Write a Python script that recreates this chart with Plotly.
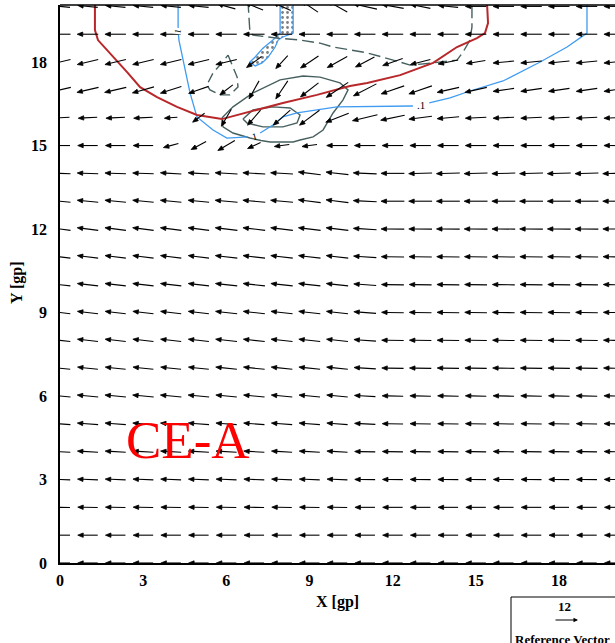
import math
import plotly.graph_objects as go

# ---------------- data ----------------
X_GRID = list(range(21))
Y_GRID = list(range(21))

# U / V components, one row per Y value (0..20), 21 columns (X 0..20)
U_ROWS = [
    [-10.0, -10.0, -10.0, -10.0, -10.0, -10.0, -10.0, -10.0, -10.0, -10.0, -10.0, -10.0, -10.0, -10.0, -10.0, -10.0, -10.0, -10.0, -10.0, -10.0, -10.0],
    [-10.0, -10.0, -10.0, -10.0, -10.0, -10.0, -10.0, -10.0, -10.0, -10.0, -10.0, -10.0, -10.0, -10.0, -10.0, -10.0, -10.0, -10.0, -10.0, -10.0, -10.0],
    [-10.0, -10.0, -10.0, -10.0, -10.0, -10.0, -10.0, -10.0, -10.0, -10.0, -10.0, -10.0, -10.0, -10.0, -10.0, -10.0, -10.0, -10.0, -10.0, -10.0, -10.0],
    [-10.2, -10.2, -10.2, -10.2, -10.2, -10.2, -10.2, -10.2, -10.2, -10.2, -10.2, -10.2, -10.2, -10.2, -10.2, -10.2, -10.2, -10.2, -10.2, -10.2, -10.2],
    [-10.3, -10.3, -10.3, -10.3, -10.3, -10.3, -10.3, -10.3, -10.3, -10.3, -10.3, -10.3, -10.3, -10.3, -10.3, -10.3, -10.3, -10.3, -10.3, -10.3, -10.3],
    [-10.4, -10.4, -10.4, -10.4, -10.4, -10.4, -10.4, -10.4, -10.4, -10.4, -10.4, -10.4, -10.4, -10.4, -10.4, -10.4, -10.4, -10.4, -10.4, -10.4, -10.4],
    [-10.5, -10.5, -10.5, -10.5, -10.5, -10.5, -10.5, -10.5, -10.5, -10.5, -10.5, -10.5, -10.5, -10.5, -10.5, -10.5, -10.5, -10.5, -10.5, -10.5, -10.5],
    [-10.2, -10.2, -10.2, -10.2, -10.2, -10.2, -10.6, -10.6, -10.6, -10.6, -10.6, -10.9, -10.9, -10.9, -10.9, -10.9, -10.9, -10.9, -10.9, -10.9, -10.9],
    [-10.3, -10.3, -10.3, -10.3, -10.3, -10.3, -10.7, -10.7, -10.7, -10.7, -10.7, -11.0, -11.0, -11.0, -11.0, -11.0, -11.0, -11.0, -11.0, -11.0, -11.0],
    [-10.3, -10.3, -10.3, -10.3, -10.3, -10.3, -10.8, -10.8, -10.8, -10.8, -10.8, -11.1, -11.1, -11.1, -11.1, -11.1, -11.1, -11.1, -11.1, -11.1, -11.1],
    [-10.4, -10.4, -10.4, -10.4, -10.4, -10.4, -10.9, -10.9, -10.9, -10.9, -10.9, -11.2, -11.2, -11.2, -11.2, -11.2, -11.2, -11.2, -11.2, -11.2, -11.2],
    [-10.4, -10.4, -10.4, -10.4, -10.4, -10.4, -11.0, -11.0, -11.0, -11.0, -11.0, -11.4, -11.4, -11.4, -11.4, -11.4, -11.4, -11.4, -11.4, -11.4, -11.4],
    [-10.5, -10.5, -10.5, -10.5, -10.5, -10.5, -11.1, -11.1, -11.1, -11.1, -11.1, -11.6, -11.6, -11.6, -11.6, -11.6, -11.6, -11.6, -11.6, -11.6, -11.6],
    [-10.5, -10.5, -10.5, -10.5, -10.5, -10.5, -11.2, -11.2, -11.2, -11.2, -11.2, -11.7, -11.7, -11.7, -11.7, -11.7, -11.7, -11.7, -11.7, -11.7, -11.7],
    [-10.5, -10.5, -10.5, -10.5, -10.5, -10.5, -11.2, -11.2, -11.2, -11.2, -11.2, -11.7, -11.7, -11.7, -11.7, -11.7, -11.7, -11.7, -11.7, -11.7, -11.7],
    [-10.0, -10.0, -10.0, -10.0, -7.5, -7.5, -8.5, -6.5, -7.5, -7.5, -10.5, -10.5, -10.5, -10.5, -10.5, -10.5, -10.5, -10.5, -10.5, -10.5, -10.5],
    [-9.5, -9.5, -9.5, -9.5, -6.5, -6.0, -5.0, -6.5, -8.5, -10.0, -11.5, -12.5, -12.0, -11.5, -11.0, -10.5, -10.5, -10.5, -10.5, -10.5, -10.5],
    [-10.8, -10.8, -10.8, -10.8, -10.5, -10.0, -6.5, -5.0, -6.0, -9.0, -11.0, -11.5, -11.5, -11.5, -11.0, -11.0, -10.5, -10.5, -10.5, -10.5, -10.5],
    [-10.5, -10.5, -10.5, -10.5, -10.5, -10.5, -10.5, -7.5, -6.0, -9.0, -10.0, -9.5, -10.0, -10.0, -10.0, -9.5, -10.5, -10.5, -10.5, -10.5, -10.5],
    [-10.5, -10.5, -10.5, -10.5, -10.5, -10.5, -10.5, -10.5, -10.5, -10.5, -10.5, -10.5, -10.5, -10.5, -10.5, -10.5, -10.5, -10.5, -10.5, -10.5, -10.5],
    [-10.0, -10.0, -10.0, -10.0, -10.0, -10.0, -9.0, -9.0, -9.0, -8.5, -10.0, -12.0, -11.0, -10.0, -10.0, -10.5, -10.5, -10.5, -10.5, -10.5, -10.5],
]
V_ROWS = [
    [0.0, 0.0, 0.0, 0.0, 0.0, 0.0, 0.0, 0.0, 0.0, 0.0, 0.0, 0.0, 0.0, 0.0, 0.0, 0.0, 0.0, 0.0, 0.0, 0.0, 0.0],
    [0.0, 0.0, 0.0, 0.0, 0.0, 0.0, 0.0, 0.0, 0.0, 0.0, 0.0, 0.0, 0.0, 0.0, 0.0, 0.0, 0.0, 0.0, 0.0, 0.0, 0.0],
    [0.2, 0.2, 0.2, 0.2, 0.2, 0.2, 0.2, 0.2, 0.2, 0.2, 0.2, 0.0, 0.0, 0.0, 0.0, 0.0, 0.0, 0.0, 0.0, 0.0, 0.0],
    [0.4, 0.4, 0.4, 0.4, 0.4, 0.4, 0.4, 0.4, 0.4, 0.4, 0.4, 0.1, 0.1, 0.1, 0.1, 0.1, 0.1, 0.1, 0.1, 0.1, 0.1],
    [0.6, 0.6, 0.6, 0.6, 0.6, 0.6, 0.6, 0.6, 0.6, 0.6, 0.6, 0.2, 0.2, 0.2, 0.2, 0.2, 0.2, 0.2, 0.2, 0.2, 0.2],
    [0.8, 0.8, 0.8, 0.8, 0.8, 0.8, 0.8, 0.8, 0.8, 0.8, 0.8, 0.5, 0.2, 0.2, 0.2, 0.2, 0.2, 0.2, 0.2, 0.2, 0.2],
    [1.0, 1.0, 1.0, 1.0, 1.0, 1.0, 1.0, 1.0, 1.0, 1.0, 1.0, 0.6, 0.2, 0.2, 0.2, 0.2, 0.2, 0.2, 0.2, 0.2, 0.2],
    [1.1, 1.1, 1.1, 1.1, 1.1, 1.1, 1.1, 1.1, 1.1, 1.1, 1.1, 0.7, 0.2, 0.2, 0.2, 0.2, 0.2, 0.2, 0.2, 0.2, 0.2],
    [1.2, 1.2, 1.2, 1.2, 1.2, 1.2, 1.2, 1.2, 1.2, 1.2, 1.2, 0.8, 0.2, 0.2, 0.2, 0.2, 0.2, 0.2, 0.2, 0.2, 0.2],
    [1.2, 1.2, 1.2, 1.2, 1.2, 1.2, 1.2, 1.2, 1.2, 1.2, 1.2, 0.8, 0.2, 0.2, 0.2, 0.2, 0.2, 0.2, 0.2, 0.2, 0.2],
    [1.2, 1.2, 1.2, 1.2, 1.2, 1.2, 1.2, 1.2, 1.2, 1.2, 1.2, 0.8, 0.2, 0.2, 0.2, 0.2, 0.2, 0.2, 0.2, 0.2, 0.2],
    [1.3, 1.3, 1.3, 1.3, 1.3, 1.3, 1.3, 1.3, 1.3, 1.3, 1.3, 0.8, 0.2, 0.2, 0.2, 0.2, 0.2, 0.2, 0.2, 0.2, 0.2],
    [1.3, 1.3, 1.3, 1.3, 1.3, 1.3, 1.3, 1.3, 1.3, 1.3, 1.3, 0.7, 0.1, 0.1, 0.1, 0.1, 0.1, 0.1, 0.1, 0.1, 0.1],
    [1.0, 1.0, 1.0, 1.0, 1.0, 1.0, 1.0, 1.0, 1.0, 1.4, 1.4, 0.6, 0.0, 0.0, 0.0, 0.0, 0.0, 0.0, 0.0, 0.0, 0.0],
    [0.4, 0.4, 0.4, 0.4, 0.6, 0.6, 0.6, 0.6, 0.6, 1.4, 1.3, 0.5, 0.0, -0.3, -0.3, -0.3, -0.3, -0.3, -0.3, -0.3, -0.3],
    [0.0, 0.0, 0.0, 0.0, -2.0, -4.0, -5.0, -3.0, -1.0, -1.0, 0.0, 0.0, 0.0, 0.0, 0.0, 0.0, 0.0, 0.0, 0.0, 0.0, 0.0],
    [-0.5, -0.5, -0.5, -0.5, -0.5, -4.5, -8.5, -7.5, -7.5, -7.5, -4.5, -3.0, -2.5, -1.5, -1.0, -0.5, -0.5, -0.5, -0.5, -0.5, -0.5],
    [-2.5, -2.5, -2.5, -3.0, -3.3, -3.5, -5.0, -9.0, -9.0, -7.0, -7.5, -6.0, -4.0, -4.0, -2.5, -2.5, -1.5, -1.5, -1.5, -1.5, -1.5],
    [-2.5, -2.5, -2.5, -2.5, -2.5, -2.5, -2.5, -5.5, -6.5, -6.0, -5.5, -5.0, -3.5, -2.5, -2.0, -1.5, -1.0, -1.0, -1.0, -1.0, -1.0],
    [0.0, 0.0, 0.0, 0.0, 0.0, 0.0, 0.0, 0.0, 0.0, 0.0, 0.0, 0.0, 0.0, 0.0, 0.0, 0.0, 0.0, 0.0, 0.0, 0.0, 0.0],
    [1.0, 1.0, 1.0, 1.0, 1.0, 1.0, 2.5, 3.7, 4.0, 5.7, 5.7, 2.7, 2.0, 2.0, 1.0, 0.0, 0.0, 0.0, 0.0, 0.0, 0.0],
]
REF_MAG = 12

# contour lines (X, Y in grid points)
RED_X = [1.26, 1.26, 1.37, 1.80, 2.42, 2.89, 3.50, 4.22, 4.94, 5.84, 6.13, 6.85, 8.04, 9.27, 10.46, 11.08, 12.27, 13.46, 14.32, 15.04, 15.33, 15.44, 15.40]
RED_Y = [20.2, 19.15, 18.79, 18.33, 17.64, 17.10, 16.74, 16.39, 16.10, 15.95, 16.03, 16.21, 16.53, 16.82, 17.14, 17.25, 17.53, 17.97, 18.54, 18.86, 19.04, 19.40, 20.2]

BLUE_A_X = [4.26, 4.26, 4.29, 4.47, 4.69, 4.94, 5.52, 6.02, 6.78]
BLUE_A_Y = [20.2, 19.15, 18.79, 17.89, 16.89, 16.03, 15.56, 15.27, 15.31]
BLUE_B_X = [7.22, 7.68, 8.04, 8.55, 9.27, 9.99, 12.73]
BLUE_B_Y = [15.45, 15.74, 16.03, 16.17, 16.28, 16.39, 16.42]
BLUE_C_X = [13.32, 14.07, 14.79, 15.98, 17.32, 18.29, 19.01, 19.01]
BLUE_C_Y = [16.53, 16.71, 16.96, 17.32, 18.00, 18.54, 19.04, 20.2]

DOT_X = [7.94, 7.94, 7.68, 7.32, 7.04, 6.85, 7.04, 7.29, 7.51, 7.76, 7.87, 8.04, 8.41, 8.41, 7.94]
DOT_Y = [20.2, 19.04, 18.79, 18.50, 18.18, 18.00, 17.86, 17.97, 18.18, 18.54, 18.79, 18.90, 19.04, 20.2, 20.2]

GRAY_DASH_X = [6.78, 6.85, 6.96, 7.83, 8.66, 9.38, 9.85, 11.08, 12.27, 12.63, 13.46, 14.32, 14.54, 14.79, 14.86, 14.86]
GRAY_DASH_Y = [20.2, 19.08, 18.97, 18.86, 18.79, 18.68, 18.54, 18.33, 18.00, 17.89, 17.97, 18.07, 18.36, 18.79, 19.26, 20.2]
GRAY_DROP_X = [6.06, 6.39, 6.42, 6.13, 5.77, 5.41, 5.30, 5.52, 5.84, 6.06]
GRAY_DROP_Y = [18.25, 17.46, 17.10, 16.82, 16.82, 17.00, 17.18, 17.61, 17.97, 18.25]
GRAY_OUT_X = [5.84, 6.24, 6.96, 7.94, 8.77, 9.38, 10.10, 10.39, 10.21, 9.85, 9.49, 9.13, 8.66, 8.41, 7.58, 7.25, 6.85, 6.24, 5.88, 5.84]
GRAY_OUT_Y = [15.99, 16.39, 16.89, 17.36, 17.50, 17.46, 17.25, 17.00, 16.64, 16.17, 15.56, 15.31, 15.20, 15.13, 15.13, 15.18, 15.27, 15.45, 15.67, 15.99]
GRAY_IN_X = [6.60, 6.96, 7.68, 8.30, 8.66, 8.55, 8.04, 7.32, 6.75, 6.60]
GRAY_IN_Y = [15.95, 16.28, 16.39, 16.35, 16.10, 15.81, 15.67, 15.67, 15.81, 15.95]

X_TICKS = [0, 3, 6, 9, 12, 15, 18]
Y_TICKS = [0, 3, 6, 9, 12, 15, 18]

# ---------------- layout geometry ----------------
W, H = 615, 643
ML, MR, MT, MB = 60, 0, 5, 80
XR = [0, 20.02]
YR = [0, 20.05]
PXX = (W - ML - MR) / (XR[1] - XR[0])
PXY = (H - MT - MB) / (YR[1] - YR[0])
S = 2.0          # pixels per unit of vector magnitude
HEAD_L = 5.5     # arrow head length, px
HEAD_W = 2.2     # arrow head half width, px

RED = "#b8272a"
BLUE = "#3f9cf2"
GRAY = "#46605f"
SERIF = "Liberation Serif"

fig = go.Figure()

# dotted area
fig.add_trace(go.Scatter(x=DOT_X, y=DOT_Y, mode="lines", fill="toself",
                         fillcolor="white",
                         fillpattern=dict(shape=".", fgcolor="black", bgcolor="white", size=5, solidity=0.25),
                         line=dict(color=BLUE, width=1.3), hoverinfo="skip", showlegend=False))


def line(xs, ys, color, width, dash="solid"):
    fig.add_trace(go.Scatter(x=xs, y=ys, mode="lines", line=dict(color=color, width=width, dash=dash),
                             hoverinfo="skip", showlegend=False))


line(GRAY_DASH_X, GRAY_DASH_Y, GRAY, 1.4, "12px,5px")
line(GRAY_DROP_X, GRAY_DROP_Y, GRAY, 1.4, "10px,5px")
line(GRAY_OUT_X, GRAY_OUT_Y, GRAY, 1.4)
line(GRAY_IN_X, GRAY_IN_Y, GRAY, 1.4)
line(BLUE_A_X, BLUE_A_Y, BLUE, 1.3)
line(BLUE_B_X, BLUE_B_Y, BLUE, 1.3)
line(BLUE_C_X, BLUE_C_Y, BLUE, 1.3)
line(RED_X, RED_Y, RED, 2.0)

# ---------------- vectors ----------------
sx, sy, hx, hy = [], [], [], []
for j, yc in enumerate(Y_GRID):
    for i, xc in enumerate(X_GRID):
        u = U_ROWS[j][i]
        v = V_ROWS[j][i]
        vx, vy = u * S, v * S
        L = math.hypot(vx, vy)
        if L == 0:
            continue
        ex, ey = vx / L, vy / L
        tipx, tipy = 0.5 * vx, 0.5 * vy
        tailx, taily = -0.5 * vx, -0.5 * vy
        bx, by = tipx - HEAD_L * ex, tipy - HEAD_L * ey
        w1x, w1y = bx - HEAD_W * ey, by + HEAD_W * ex
        w2x, w2y = bx + HEAD_W * ey, by - HEAD_W * ex

        def to_d(px, py):
            return xc + px / PXX, yc + py / PXY
        a = to_d(tailx, taily)
        b = to_d(bx, by)
        sx += [a[0], b[0], None]
        sy += [a[1], b[1], None]
        t = to_d(tipx, tipy)
        p1 = to_d(w1x, w1y)
        p2 = to_d(w2x, w2y)
        hx += [t[0], p1[0], p2[0], t[0], None]
        hy += [t[1], p1[1], p2[1], t[1], None]

fig.add_trace(go.Scatter(x=sx, y=sy, mode="lines", line=dict(color="black", width=1.1),
                         hoverinfo="skip", showlegend=False))
fig.add_trace(go.Scatter(x=hx, y=hy, mode="lines", fill="toself", fillcolor="black",
                         line=dict(color="black", width=0.8), hoverinfo="skip", showlegend=False))

# ---------------- annotations ----------------
ann = []
ann.append(dict(x=4.26, y=19.1, xref="x", yref="y", text="1", showarrow=False, textangle=-80,
                xanchor="center", yanchor="middle",
                font=dict(family=SERIF, size=9, color="black"), bgcolor="white", borderpad=0))
ann.append(dict(x=13.03, y=16.47, xref="x", yref="y", text=".1", showarrow=False,
                xanchor="center", yanchor="middle",
                font=dict(family=SERIF, size=11, color="black"), bgcolor="white", borderpad=0))
ann.append(dict(x=7.02, y=15.33, xref="x", yref="y", text="1", showarrow=False, textangle=-15,
                xanchor="center", yanchor="middle",
                font=dict(family=SERIF, size=10, color="black")))
ann.append(dict(x=4.62, y=4.42, xref="x", yref="y", text="CE-A", showarrow=False,
                xanchor="center", yanchor="middle",
                font=dict(family=SERIF, size=53, color="red")))


def px_to_paper(px, py):
    return (px - ML) / (W - ML - MR), (H - MB - py) / (H - MT - MB)


xp, yp = px_to_paper(337.5, 602)
ann.append(dict(x=xp, y=yp, xref="paper", yref="paper", text="X [gp]", showarrow=False,
                xanchor="center", yanchor="middle",
                font=dict(family=SERIF, size=16, color="black", weight="bold")))
xp, yp = px_to_paper(17, 283)
ann.append(dict(x=xp, y=yp, xref="paper", yref="paper", text="Y [gp]", showarrow=False, textangle=-90,
                xanchor="center", yanchor="middle",
                font=dict(family=SERIF, size=16, color="black", weight="bold")))
xp, yp = px_to_paper(564, 606)
ann.append(dict(x=xp, y=yp, xref="paper", yref="paper", text=str(REF_MAG), showarrow=False,
                xanchor="center", yanchor="middle",
                font=dict(family=SERIF, size=13, color="black", weight="bold")))
xp, yp = px_to_paper(578, 620)
ann.append(dict(x=xp, y=yp, xref="paper", yref="paper", text="", showarrow=True,
                ax=-REF_MAG * S, ay=0, arrowhead=2, arrowsize=0.9, arrowwidth=1, arrowcolor="black"))
xp, yp = px_to_paper(513, 630)
ann.append(dict(x=xp, y=yp, xref="paper", yref="paper", text="Reference Vector", showarrow=False,
                xanchor="left", yanchor="top",
                font=dict(family=SERIF, size=13, color="black", weight="bold")))

bx0, by0 = px_to_paper(511, 597)
bx1, by1 = px_to_paper(700, 700)
shapes = [
    dict(type="rect", xref="paper", yref="paper", x0=bx0, y0=by0, x1=bx1, y1=by1,
         line=dict(color="black", width=1), fillcolor="rgba(0,0,0,0)"),
    dict(type="line", xref="paper", yref="paper", x0=0, x1=1, y0=1, y1=1,
         line=dict(color="black", width=1.5)),
]

axis_common = dict(showgrid=False, zeroline=False, showline=True, linecolor="black", linewidth=1.5,
                   ticks="", tickfont=dict(family=SERIF, size=16, color="black", weight="bold"))

fig.update_layout(
    width=W, height=H,
    margin=dict(l=ML, r=MR, t=MT, b=MB, pad=0),
    paper_bgcolor="white", plot_bgcolor="white",
    xaxis=dict(range=XR, tickvals=X_TICKS, ticklabelstandoff=2, **axis_common),
    yaxis=dict(range=YR, tickvals=Y_TICKS, ticklabelstandoff=8, **axis_common),
    annotations=ann, shapes=shapes, showlegend=False,
)

fig.write_html("out.html", config={"displayModeBar": False},
               post_script="document.body.style.margin='0px';document.body.style.overflow='hidden';")
